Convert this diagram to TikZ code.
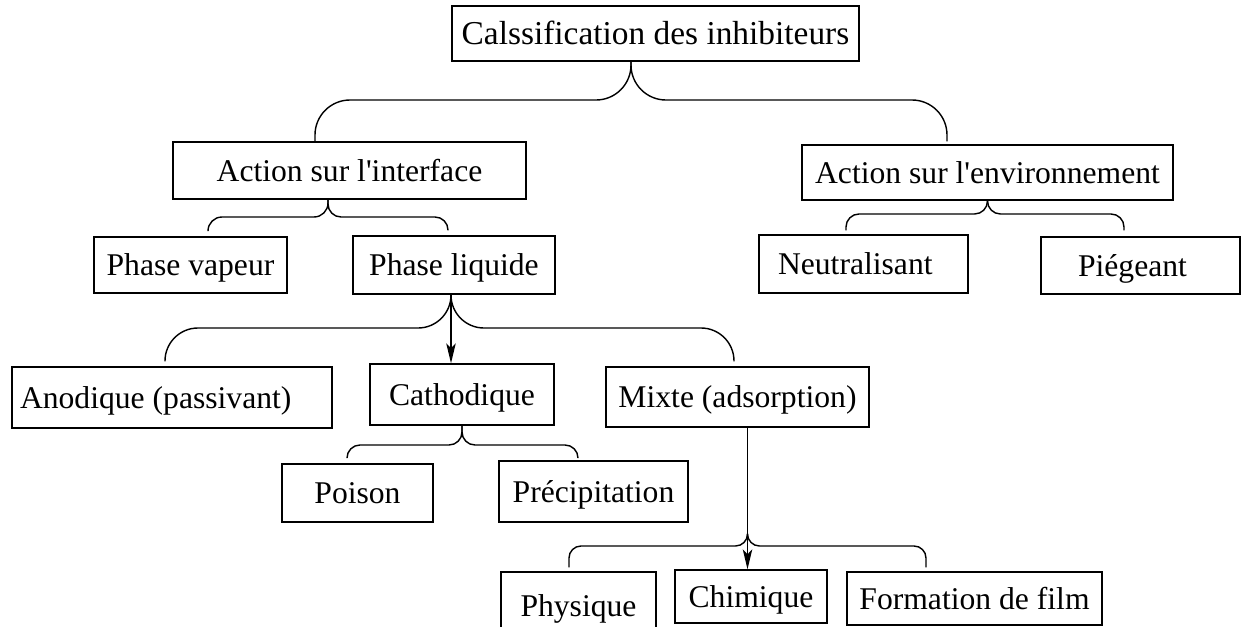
\documentclass[tikz,border=0pt]{standalone}
\usepackage{fontspec}
\setmainfont{Liberation Serif}
\usetikzlibrary{calc, arrows.meta, positioning}

\tikzset{
    boite/.style={draw, inner sep=2pt, text height=12pt, text depth=0pt, font=\fontsize{18}{21}\selectfont},
    accol/.style={rounded corners=#1},
}

\begin{document}
\begin{tikzpicture}[x=0.02cm, y=-0.02cm, line width=0.8pt, >={Stealth[length=4mm, width=1.9mm, inset=1mm]}]
    \useasboundingbox (0,0) rectangle (1241,626);

    % Boites
    \node[boite, font=\fontsize{19}{22}\selectfont, text height=12.5pt, minimum width=8.14cm, minimum height=1.10cm] (classif) at (655.5,33.5) {Calssification des inhibiteurs};
    \node[boite, minimum width=7.06cm, minimum height=1.14cm] (inter) at (349.5,170.5) {Action sur l\textquotesingle interface};
    \node[boite, minimum width=7.42cm, minimum height=1.10cm] (envir) at (987.5,172.5) {Action sur l\textquotesingle environnement};
    \node[boite, minimum width=3.86cm, minimum height=1.12cm] (vapeur) at (190.5,265) {Phase vapeur};
    \node[boite, minimum width=4.04cm, minimum height=1.16cm] (liquide) at (454,265) {Phase liquide};
    \node[boite, text width=3.42cm, align=flush left, minimum width=4.18cm, minimum height=1.16cm] (neutre) at (863.5,264) {Neutralisant};
    \node[boite, text width=2.5cm, align=flush left, minimum width=3.98cm, minimum height=1.14cm] (piege) at (1140.5,265.5) {Piégeant};
    \node[boite, text width=6.08cm, align=flush left, minimum width=6.40cm, minimum height=1.22cm] (anod) at (172,397.5) {Anodique (passivant)};
    \node[boite, minimum width=3.68cm, minimum height=1.22cm] (catho) at (462,394.5) {Cathodique};
    \node[boite, minimum width=5.26cm, minimum height=1.20cm] (mixte) at (737.5,397) {Mixte (adsorption)};
    \node[boite, minimum width=3.02cm, minimum height=1.16cm] (poison) at (357.5,493) {Poison};
    \node[boite, minimum width=3.78cm, minimum height=1.22cm] (precip) at (593.5,491.5) {Précipitation};
    \node[boite, minimum width=3.10cm, minimum height=1.36cm] (phys) at (578.5,606) {Physique};
    \node[boite, minimum width=3.04cm, minimum height=1.06cm] (chimi) at (751,596.5) {Chimique};
    \node[boite, minimum width=5.10cm, minimum height=1.06cm] (film) at (974.5,598.5) {Formation de film};

    % Accolades
    \coordinate (t1) at ($(classif.south)+(-24.5,0)$);
    \coordinate (n1) at (0,100);
    \draw[accol=0.7cm] (t1) -- (t1 |- n1) -| ($(inter.north)+(-34.5,0)$);
    \draw[accol=0.7cm] (t1) -- (t1 |- n1) -| ($(envir.north)+(-40.5,-3)$);

    \coordinate (t2) at ($(inter.south)+(-21.5,0)$);
    \coordinate (n2) at (0,217);
    \draw[accol=0.28cm] (t2) -- (t2 |- n2) -| ($(vapeur.north)+(17.5,-6)$);
    \draw[accol=0.26cm] (t2) -- (t2 |- n2) -| ($(liquide.north)+(-6,-5)$);

    \coordinate (n6) at (0,214);
    \draw[accol=0.26cm] (envir.south) -- (envir.south |- n6) -| ($(neutre.north)+(-17.5,-4)$);
    \draw[accol=0.26cm] (envir.south) -- (envir.south |- n6) -| ($(piege.north)+(-16.5,-6)$);

    \coordinate (t3) at ($(liquide.south)+(-3,0)$);
    \coordinate (n3) at (0,328);
    \draw[accol=0.66cm] (t3) -- (t3 |- n3) -| ($(anod.north)+(-7,-5)$);
    \draw[accol=0.66cm] (t3) -- (t3 |- n3) -| ($(mixte.north)+(-3.5,-5)$);
    \draw[->] (t3) -- (t3 |- catho.north);

    \coordinate (n4) at (0,445);
    \draw[accol=0.26cm] (catho.south) -- (catho.south |- n4) -| ($(poison.north)+(-10.5,-6)$);
    \draw[accol=0.26cm] (catho.south) -- (catho.south |- n4) -| ($(precip.north)+(-15.5,-3)$);

    \coordinate (t5) at ($(mixte.south)+(10,106)$);
    \coordinate (n5) at (0,546);
    \draw[accol=0.24cm] (t5) -- (t5 |- n5) -| ($(phys.north)+(-9.5,-4)$);
    \draw[accol=0.24cm] (t5) -- (t5 |- n5) -| ($(film.north)+(-48.5,-4)$);
    \draw[->] (t5 |- mixte.south) -- (t5 |- chimi.north);
\end{tikzpicture}
\end{document}
